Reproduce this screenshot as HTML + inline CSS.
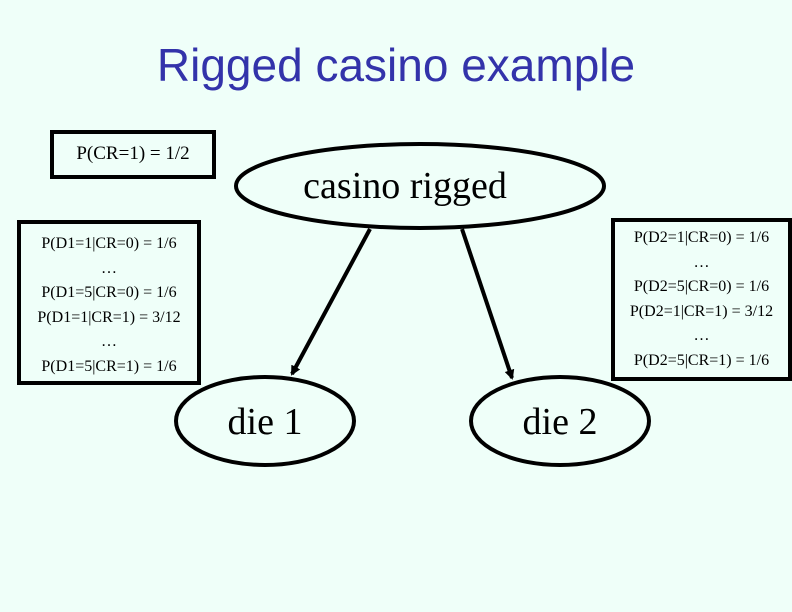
<!DOCTYPE html>
<html><head><style>
html,body{margin:0;padding:0}
body{width:792px;height:612px;background:#effff9;position:relative;overflow:hidden;font-family:"Liberation Serif",serif}
.t{position:absolute;left:0;width:792px;text-align:center;top:38px;font-family:"Liberation Sans",sans-serif;font-size:46px;color:#3333aa}
.box{position:absolute;border:4px solid #000;box-sizing:border-box;text-align:center;font-size:16px;line-height:24.5px}
</style></head><body>
<div class="t">Rigged casino example</div>
<div class="box" style="left:50px;top:130px;width:166px;height:49px;font-size:19px;line-height:40px">P(CR=1) = 1/2</div>
<div class="box" style="left:17px;top:220px;width:184px;height:165px;padding-top:8px">P(D1=1|CR=0) = 1/6<br>…<br>P(D1=5|CR=0) = 1/6<br>P(D1=1|CR=1) = 3/12<br>…<br>P(D1=5|CR=1) = 1/6</div>
<div class="box" style="left:611px;top:218px;width:181px;height:163px;padding-top:4px">P(D2=1|CR=0) = 1/6<br>…<br>P(D2=5|CR=0) = 1/6<br>P(D2=1|CR=1) = 3/12<br>…<br>P(D2=5|CR=1) = 1/6</div>
<svg width="792" height="612" style="position:absolute;left:0;top:0">
<defs><marker id="a" markerWidth="10" markerHeight="10" refX="8" refY="5" orient="auto" markerUnits="userSpaceOnUse"><path d="M0,0 L10,5 L0,10 z"/></marker></defs>
<ellipse cx="420" cy="186" rx="184" ry="42" fill="none" stroke="#000" stroke-width="4"/>
<ellipse cx="265" cy="421" rx="89" ry="44" fill="none" stroke="#000" stroke-width="4"/>
<ellipse cx="560" cy="421" rx="89" ry="44" fill="none" stroke="#000" stroke-width="4"/>
<line x1="370" y1="229" x2="292" y2="374" stroke="#000" stroke-width="4" marker-end="url(#a)"/>
<line x1="462" y1="229" x2="512" y2="378" stroke="#000" stroke-width="4" marker-end="url(#a)"/>
<text x="405" y="198" text-anchor="middle" font-family="Liberation Serif" font-size="38">casino rigged</text>
<text x="265" y="434" text-anchor="middle" font-family="Liberation Serif" font-size="38">die 1</text>
<text x="560" y="434" text-anchor="middle" font-family="Liberation Serif" font-size="38">die 2</text>
</svg>
</body></html>
